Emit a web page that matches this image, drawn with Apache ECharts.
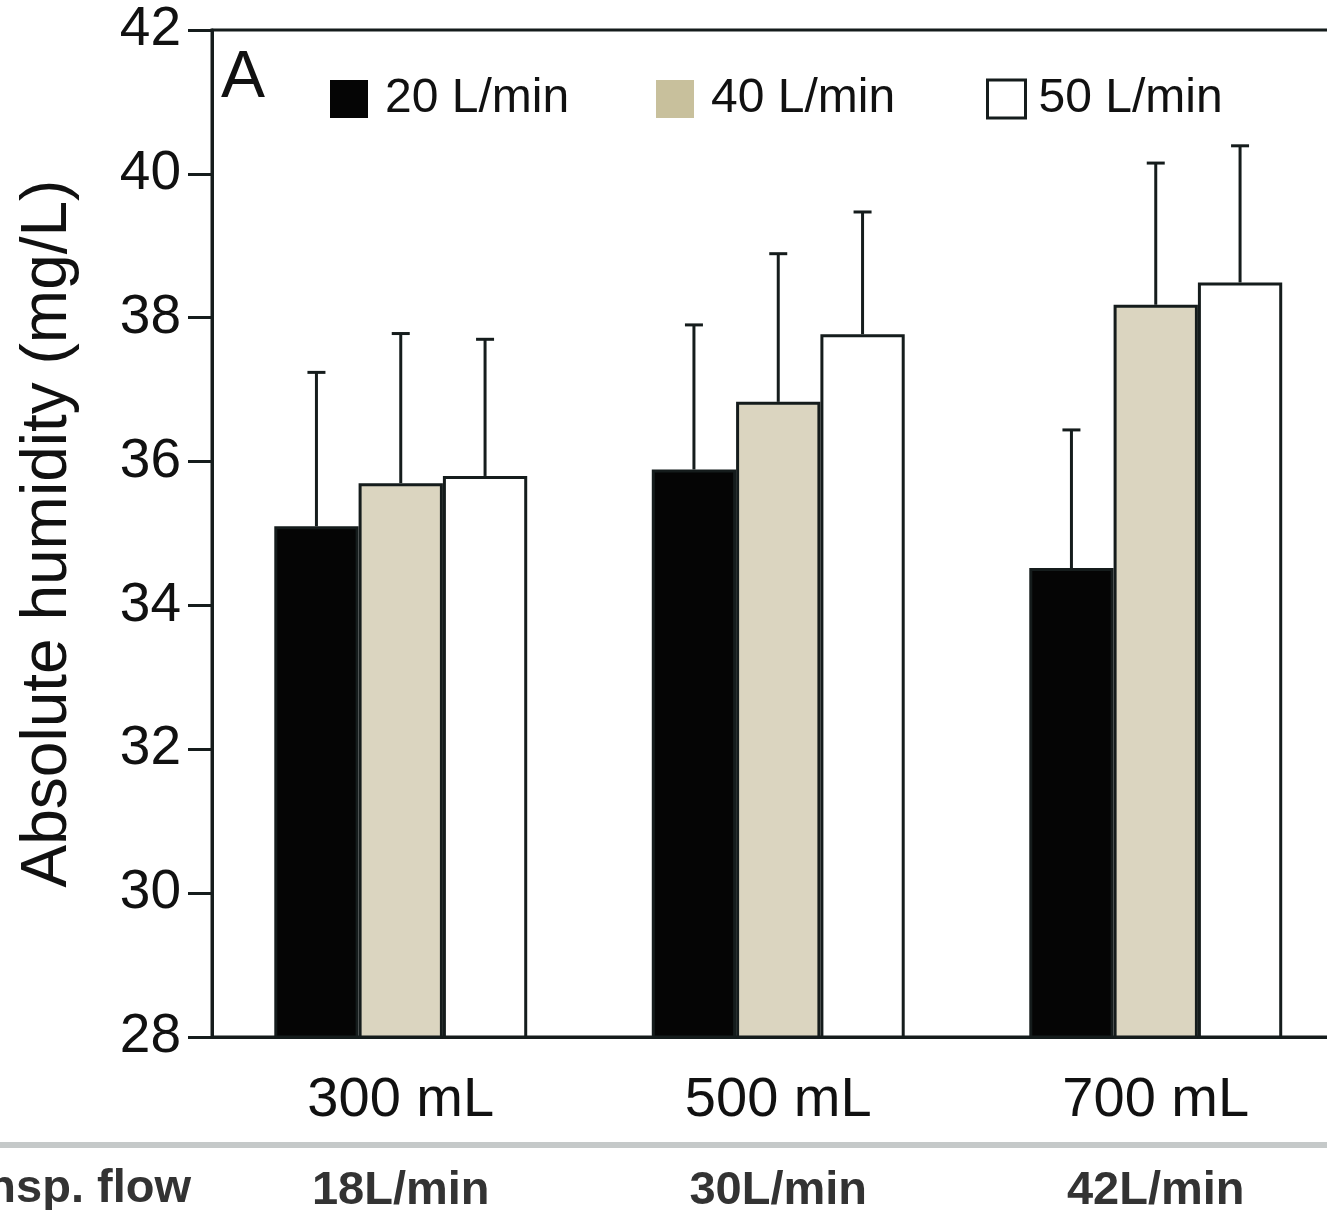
<!DOCTYPE html>
<html>
<head>
<meta charset="utf-8">
<script src="https://cdn.jsdelivr.net/npm/echarts@6/dist/echarts.min.js"></script>
<style>
html,body{margin:0;padding:0;background:#fff;}
#c{width:1327px;height:1210px;}
</style>
</head>
<body>
<div id="c"></div>
<script>
// ---- data ----
const categories = ['300 mL', '500 mL', '700 mL'];
const flowLabels = ['18L/min', '30L/min', '42L/min'];
const rowTitle = 'Insp. flow';
const seriesNames = ['20 L/min', '40 L/min', '50 L/min'];
const mean20 = [35.10, 35.89, 34.52];
const mean40 = [35.70, 36.83, 38.18];
const mean50 = [35.80, 37.77, 38.49];
const sd20 = [2.14, 2.01, 1.92];
const sd40 = [2.08, 2.06, 1.97];
const sd50 = [1.90, 1.70, 1.90];
const yTicks = [28, 30, 32, 34, 36, 38, 40, 42];
const yTitle = 'Absolute humidity (mg/L)';
const panelLetter = 'A';

const FONT = '"Liberation Sans", Arial, Helvetica, sans-serif';
const EDGE = '#151c1c';
const fills = ['#050505', '#dbd5c0', '#ffffff'];
const legendFills = ['#050505', '#c8c09c', '#ffffff'];
const CAT_GAP = 0.33;

const means = [mean20, mean40, mean50];
const sds = [sd20, sd40, sd50];

const chart = echarts.init(document.getElementById('c'), null, {renderer: 'canvas'});

function errRender(sIdx) {
  return function (params, api) {
    const cat = api.value(0), v = api.value(1), e = api.value(2);
    const base = api.coord([cat, v]);
    const top = api.coord([cat, v + e]);
    const band = api.size([1, 0])[0];
    const bw = band * (1 - CAT_GAP) / 3;
    const x = base[0] + (sIdx - 1) * bw;
    const style = {stroke: EDGE, lineWidth: 3, fill: null};
    return {
      type: 'group',
      children: [
        {type: 'line', shape: {x1: x, y1: base[1], x2: x, y2: top[1]}, style: style},
        {type: 'line', shape: {x1: x - 9, y1: top[1], x2: x + 9, y2: top[1]}, style: style}
      ]
    };
  };
}

const series = [];
seriesNames.forEach((name, i) => {
  series.push({
    name: name,
    type: 'bar',
    xAxisIndex: 0,
    yAxisIndex: 0,
    barGap: '0%',
    barCategoryGap: (CAT_GAP * 100) + '%',
    data: means[i],
    itemStyle: {color: fills[i], borderColor: EDGE, borderWidth: 3},
    emphasis: {disabled: true},
    z: 2
  });
});
seriesNames.forEach((name, i) => {
  series.push({
    type: 'custom',
    xAxisIndex: 0,
    yAxisIndex: 0,
    renderItem: errRender(i),
    data: means[i].map((v, k) => [k, v, sds[i][k]]),
    z: 3,
    silent: true
  });
});

const legendLefts = [325, 651, 981];

chart.setOption({
  animation: false,
  backgroundColor: '#ffffff',
  textStyle: {fontFamily: FONT},
  grid: {left: 212, top: 30, height: 1007, width: 1132.5, outerBoundsMode: 'none', containLabel: false, show: true, borderWidth: 3, borderColor: EDGE, backgroundColor: 'transparent'},
  legend: seriesNames.map((n, i) => ({
    data: [{name: n, itemStyle: {color: legendFills[i], borderColor: i === 2 ? EDGE : legendFills[i], borderWidth: i === 2 ? 3 : 0}}],
    left: legendLefts[i],
    top: 70,
    icon: 'rect',
    itemWidth: 38,
    itemHeight: 38,
    itemGap: 0,
    selectedMode: false,
    textStyle: {fontSize: 48, color: '#111', fontFamily: FONT, padding: [0, 0, 0, i === 2 ? 8 : 12]}
  })),
  xAxis: [
    {
      type: 'category',
      data: categories,
      position: 'bottom',
      axisLine: {show: true, lineStyle: {color: EDGE, width: 3}},
      axisTick: {show: false},
      axisLabel: {fontSize: 56, color: '#111', margin: 36, fontFamily: FONT}
    },
    {
      type: 'category',
      data: flowLabels,
      position: 'bottom',
      offset: 125,
      axisLine: {show: false},
      axisTick: {show: false},
      axisLabel: {fontSize: 47, fontWeight: 'bold', color: '#333', margin: 6, fontFamily: FONT}
    }
  ],
  yAxis: {
    type: 'value',
    min: yTicks[0],
    max: yTicks[yTicks.length - 1],
    interval: yTicks[1] - yTicks[0],
    name: yTitle,
    nameLocation: 'middle',
    nameRotate: 90,
    nameGap: 132,
    nameTextStyle: {fontSize: 64, color: '#111', fontFamily: FONT},
    splitLine: {show: false},
    axisLine: {show: true, lineStyle: {color: EDGE, width: 3}},
    axisTick: {show: true, length: 24, lineStyle: {color: EDGE, width: 3}},
    axisLabel: {fontSize: 55, color: '#111', margin: 31, fontFamily: FONT}
  },
  graphic: [
    {type: 'text', left: 221, top: 46, style: {text: panelLetter, fontSize: 66, fill: '#111', fontFamily: FONT}},
    {type: 'rect', shape: {x: 0, y: 1142, width: 1327, height: 6}, style: {fill: '#c5c9c9'}},
    {type: 'text', style: {text: rowTitle, x: 191, y: 1189, align: 'right', verticalAlign: 'middle', fontSize: 47, fontWeight: 'bold', fill: '#333', fontFamily: FONT}}
  ],
  series: series
});
</script>
</body>
</html>
